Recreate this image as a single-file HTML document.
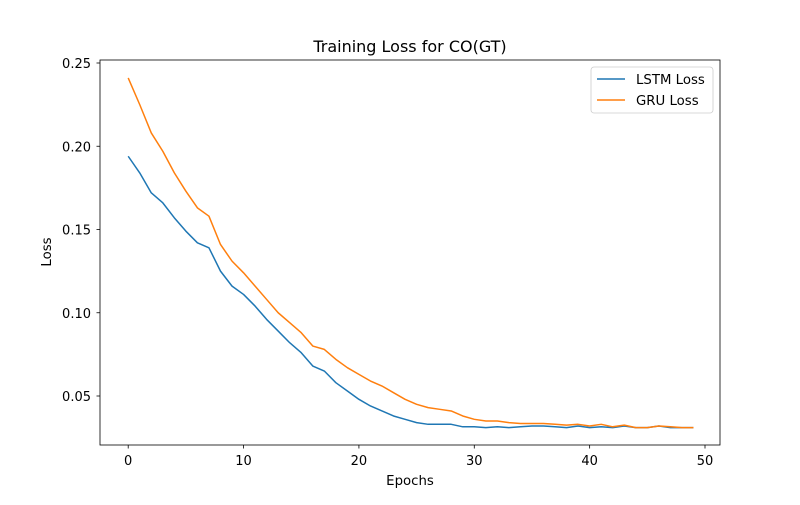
<!DOCTYPE html>
<html><head><meta charset="utf-8"><style>
body{margin:0;background:#fff}
text{font-family:"DejaVu Sans","Liberation Sans",sans-serif;fill:#000}
</style></head><body>
<svg id="chart" width="800" height="500" xmlns="http://www.w3.org/2000/svg">
<text x="410" y="52" font-size="16" text-anchor="middle">Training Loss for CO(GT)</text>
<g id="grid"></g>
<rect x="100" y="60" width="620" height="385" fill="none" stroke="#000" stroke-width="0.8"/>
<text x="410" y="485" font-size="13.3" text-anchor="middle">Epochs</text>
<text x="51" y="252" font-size="13.3" text-anchor="middle" transform="rotate(-90 51 252)">Loss</text>
<g>
<rect x="591" y="67" width="122" height="46" rx="3" fill="#fff" stroke="#ccc" stroke-width="0.8"/>
<line x1="597" y1="79" x2="625" y2="79" stroke="#1f77b4" stroke-width="1.5"/>
<text x="636" y="84" font-size="13.3">LSTM Loss</text>
<line x1="597" y1="100" x2="625" y2="100" stroke="#ff7f0e" stroke-width="1.5"/>
<text x="636" y="105" font-size="13.3">GRU Loss</text>
</g>
</svg>
<script>
const epochs = Array.from({length:50},(_,i)=>i);
const lstmLoss = [0.194,0.184,0.172,0.166,0.157,0.149,0.142,0.139,0.125,0.116,0.111,0.104,0.096,0.089,0.082,0.076,0.068,0.065,0.058,0.053,0.048,0.044,0.041,0.038,0.036,0.034,0.033,0.033,0.033,0.0315,0.0315,0.031,0.0315,0.031,0.0315,0.032,0.032,0.0315,0.031,0.032,0.031,0.0315,0.031,0.032,0.031,0.031,0.032,0.031,0.031,0.031];
const gruLoss = [0.241,0.225,0.208,0.197,0.184,0.173,0.163,0.158,0.141,0.131,0.124,0.116,0.108,0.100,0.094,0.088,0.080,0.078,0.072,0.067,0.063,0.059,0.056,0.052,0.048,0.045,0.043,0.042,0.041,0.038,0.036,0.035,0.035,0.034,0.0335,0.0335,0.0335,0.033,0.0325,0.033,0.032,0.033,0.0315,0.0325,0.031,0.031,0.032,0.0315,0.031,0.031];
const xTicks = [0,10,20,30,40,50];
const yTicks = [0.05,0.10,0.15,0.20,0.25];
const yTickLabels = ["0.05","0.10","0.15","0.20","0.25"];

const NS="http://www.w3.org/2000/svg";
const g=document.getElementById('grid');
const xs=v=>128.2+v*(705-128.2)/50;
const ys=v=>396-(v-0.05)*(83.25/0.05);
function mk(t,a){const e=document.createElementNS(NS,t);for(const k in a)e.setAttribute(k,a[k]);return e;}
xTicks.forEach(t=>{
  const l=mk('line',{x1:xs(t),x2:xs(t),y1:445,y2:448.5,stroke:'#000','stroke-width':0.8});
  
  
  g.appendChild(l);
  const tx=mk('text',{x:xs(t),y:465,'font-size':13,'text-anchor':'middle'});
  tx.textContent=t;
  
  
  g.appendChild(tx);
});
yTicks.forEach((t,i)=>{
  const l=mk('line',{x1:96.5,x2:100,y1:ys(t),y2:ys(t),stroke:'#000','stroke-width':0.8});
  
  
  g.appendChild(l);
  const tx=mk('text',{x:91,y:ys(t)+5,'font-size':13,'text-anchor':'end'});
  tx.textContent=yTickLabels[i];
  
  
  g.appendChild(tx);
});
function line(data,color,name){
  const p=mk('polyline',{points:data.map((v,i)=>xs(epochs[i])+','+ys(v)).join(' '),fill:'none',stroke:color,'stroke-width':1.5,'stroke-linejoin':'round'});
  
  
  g.appendChild(p);
}
line(lstmLoss,'#1f77b4','lstm-loss-line');
line(gruLoss,'#ff7f0e','gru-loss-line');
</script>
</body></html>
